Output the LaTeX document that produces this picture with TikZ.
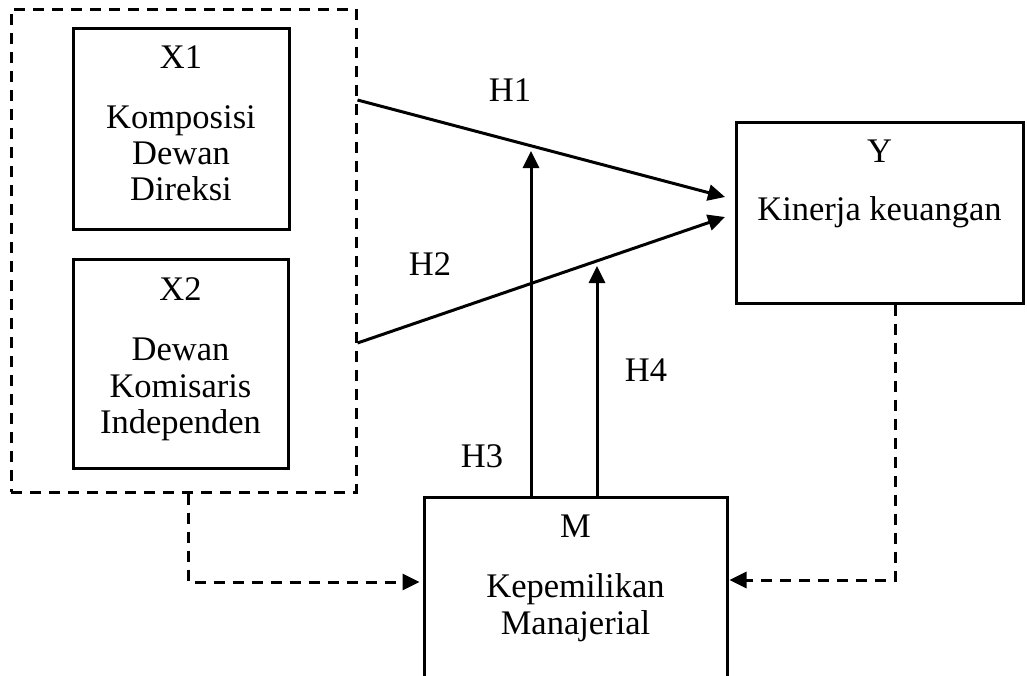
\documentclass[tikz,border=0pt]{standalone}
\usepackage{fontspec}
\setmainfont{Liberation Serif}
\usetikzlibrary{arrows.meta}
\begin{document}
\begin{tikzpicture}[x=1pt,y=-1pt,
  every node/.style={font=\fontsize{34.5}{37}\selectfont},
  box/.style={draw,line width=3pt,rectangle,inner sep=0pt},
  grpbox/.style={draw,line width=3pt,rectangle,inner sep=0pt,dash pattern=on 11pt off 8pt},
  lbl/.style={anchor=base,inner sep=0pt},
  arr/.style={line width=3pt,-{Triangle[length=17pt,width=16pt]}},
  darr/.style={line width=3pt,dash pattern=on 11pt off 8pt,-{Triangle[length=17pt,width=16pt]}}]
\useasboundingbox (0,0) rectangle (1027,675);
\clip (0,0) rectangle (1027,675);
% boxes
\node[grpbox,minimum width=345pt,minimum height=483pt] (grp) at (183.5,250.5) {};
\node[box,minimum width=216pt,minimum height=201pt] (x1) at (181,128.5) {};
\node[box,minimum width=215pt,minimum height=209pt] (x2) at (180.5,363.5) {};
\node[box,minimum width=287pt,minimum height=181pt] (y) at (879.5,212.5) {};
\node[box,minimum width=303pt,minimum height=243pt] (m) at (575.5,618.5) {};
% texts
\node[lbl] (tx1) at (181,68) {X1};
\node[lbl] (tx1a) at (181,128) {Komposisi};
\node[lbl] (tx1b) at (181,164) {Dewan};
\node[lbl] (tx1c) at (181,200) {Direksi};
\node[lbl] (tx2) at (180.5,300) {X2};
\node[lbl] (tx2a) at (180.5,360) {Dewan};
\node[lbl] (tx2b) at (180.5,397) {Komisaris};
\node[lbl] (tx2c) at (180.5,433) {Independen};
\node[lbl] (ty) at (879.5,162) {Y};
\node[lbl] (tya) at (879.5,220) {Kinerja keuangan};
\node[lbl] (tm) at (575.5,537) {M};
\node[lbl] (tma) at (575.5,597) {Kepemilikan};
\node[lbl] (tmb) at (575.5,634) {Manajerial};
\node[lbl] (h1) at (510,101) {H1};
\node[lbl] (h2) at (430,275) {H2};
\node[lbl] (h3) at (482,467) {H3};
\node[lbl] (h4) at (646,381) {H4};
% coordinates
\coordinate (h1s) at (356,100);
\coordinate (h1e) at (725,197);
\coordinate (h2s) at (356,343);
\coordinate (h2e) at (725,217);
\coordinate (h3e) at (531,151);
\coordinate (h4e) at (597,266);
\coordinate (dl) at (188,582);
\coordinate (dr) at (895,580);
% connectors
\draw[arr] (grp.east |- h1s) -- (h1e);
\draw[arr] (grp.east |- h2s) -- (h2e);
\draw[arr] (m.north -| h3e) -- (h3e);
\draw[arr] (m.north -| h4e) -- (h4e);
\draw[darr] (grp.south -| dl) |- ([xshift=-3pt]m.west |- dl);
\draw[darr] (y.south -| dr) |- ([xshift=1pt]m.east |- dr);
\end{tikzpicture}
\end{document}
